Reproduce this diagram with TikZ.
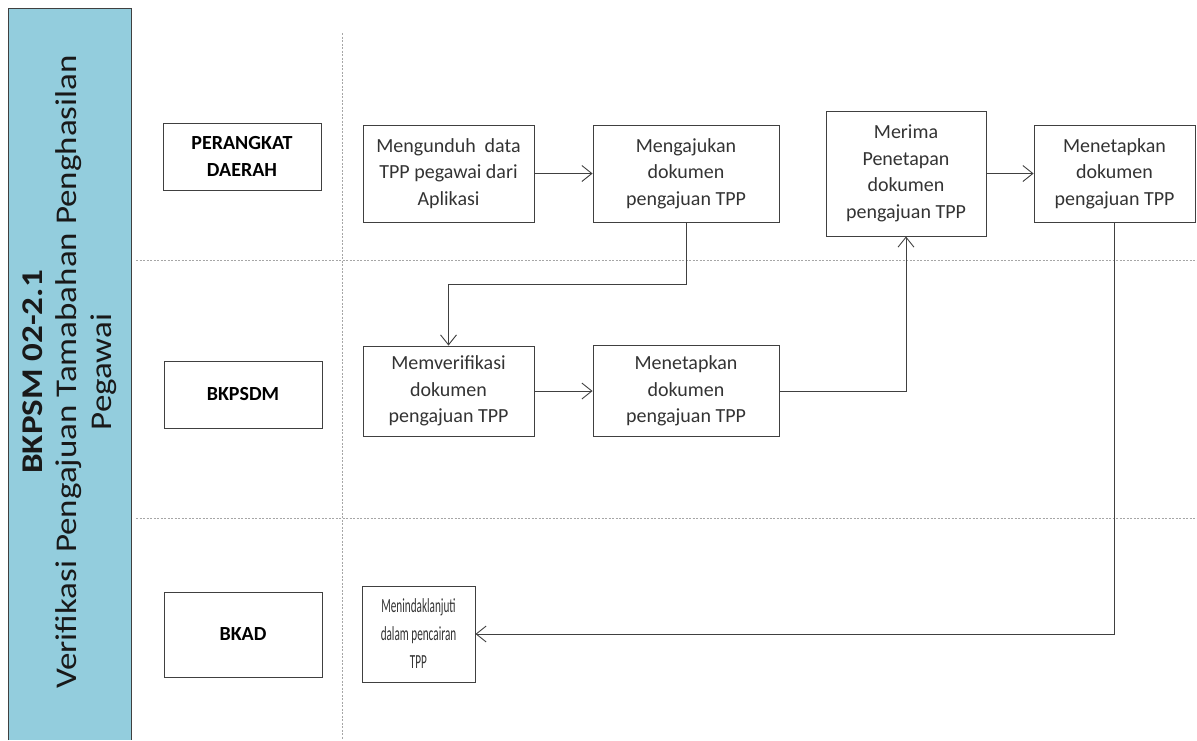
\documentclass[tikz,border=0pt]{standalone}
\usepackage{fontspec}
\setmainfont{Carlito}
\usetikzlibrary{arrows.meta}
\definecolor{sidebar}{HTML}{93CDDD}
\definecolor{edge}{HTML}{404040}
\definecolor{lane}{HTML}{A6A6A6}
\definecolor{ink}{HTML}{333333}
\begin{document}
\begin{tikzpicture}[x=1pt,y=-1pt,
  procbox/.style={draw=edge,line width=0.9pt,rectangle,align=center,inner sep=2pt,font=\fontsize{20}{26.6}\selectfont,text=ink},
  lanebox/.style={draw=edge,line width=0.9pt,rectangle,align=center,font=\fontsize{20}{26.5}\selectfont\bfseries},
  flow/.style={draw=edge,line width=0.9pt,-{Straight Barb[length=10pt,width=16pt,line width=0.9pt]}},
  divider/.style={draw=lane,line width=0.6pt,dash pattern=on 2pt off 1.5pt}]
\useasboundingbox (0,0) rectangle (1197,740);
% sidebar
\fill[sidebar] (8,8) rectangle (131,740);
\draw[edge,line width=0.9pt] (8,740) -- (8,8) -- (131,8) -- (131,740);
\node[rotate=90,inner sep=0pt,text=black!90] (title) at (70,372)
  {\scalebox{1}[0.86]{\fontsize{35}{40.5}\selectfont\begin{tabular}{@{}c@{}}\textbf{BKPSM 02-2.1}\\Verifikasi Pengajuan Tamabahan Penghasilan\\Pegawai\end{tabular}}};
% lane dividers
\draw[divider] (342,33) -- (342,740);
\draw[divider] (136,260) -- (1197,260);
\draw[divider] (136,518) -- (1197,518);
% lane labels
\node[lanebox,minimum width=158pt,minimum height=67pt] (pd) at (242,156.5) {PERANGKAT\\DAERAH};
\node[lanebox,minimum width=158pt,minimum height=67pt] (bkpsdm) at (243,394.5) {BKPSDM};
\node[lanebox,minimum width=158pt,minimum height=85pt] (bkad) at (243,634.5) {BKAD};
% process boxes
\node[procbox,minimum width=171pt,minimum height=97pt] (b1) at (448.5,173.5) {Mengunduh\hspace{0.45em}data\\TPP pegawai dari\\Aplikasi};
\node[procbox,minimum width=186pt,minimum height=97pt] (b2) at (686,173.5) {Mengajukan\\dokumen\\pengajuan TPP};
\node[procbox,minimum width=171pt,minimum height=90pt] (b3) at (448.5,391) {Memverifikasi\\dokumen\\pengajuan TPP};
\node[procbox,minimum width=186pt,minimum height=91pt] (b4) at (686,391) {Menetapkan\\dokumen\\pengajuan TPP};
\node[procbox,minimum width=160pt,minimum height=125pt] (b5) at (906,173.5) {Merima\\Penetapan\\dokumen\\pengajuan TPP};
\node[procbox,minimum width=161pt,minimum height=97pt] (b6) at (1114.5,173.5) {Menetapkan\\dokumen\\pengajuan TPP};
\node[procbox,minimum width=113pt,minimum height=96pt,font=\fontsize{20}{28}\selectfont] (b7) at (418.5,634)
  {\scalebox{0.56}[1]{Menindaklanjuti}\\\scalebox{0.56}[1]{dalam pencairan}\\\scalebox{0.56}[1]{TPP}};
% connectors
\draw[flow] (b1.east) -- (b2.west);
\draw[flow] (b2.south) -- ++(0,62) -| (b3.north);
\draw[flow] (b3.east) -- (b4.west);
\draw[flow] (b4.east) -| (b5.south);
\draw[flow] (b5.east) -- (b6.west);
\draw[flow] (b6.south) |- (b7.east);
\end{tikzpicture}
\end{document}
